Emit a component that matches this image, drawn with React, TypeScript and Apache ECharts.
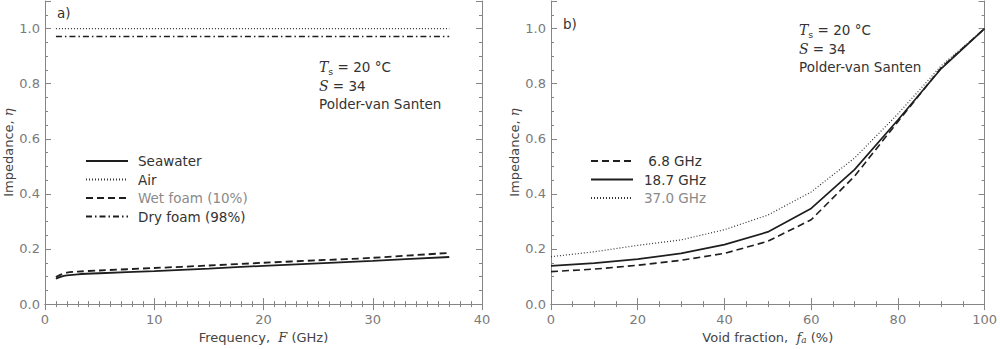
import React, { useEffect, useRef } from "react";
import * as echarts from "echarts";

// ---- Data ----
const freqGHz = [1, 1.5, 2, 3, 5, 10, 15, 20, 25, 30, 37];
const seawaterEta = [0.092, 0.1, 0.104, 0.108, 0.112, 0.12, 0.129, 0.139, 0.148, 0.157, 0.171];
const wetFoamEta = [0.098, 0.108, 0.114, 0.118, 0.122, 0.131, 0.14, 0.15, 0.159, 0.168, 0.186];
const flatFreq = [1, 37];
const airEta = [1.0, 1.0];
const dryFoamEta = [0.971, 0.971];

const voidFraction = [0, 10, 20, 30, 40, 50, 60, 70, 80, 90, 100];
const eta68 = [0.118, 0.127, 0.141, 0.159, 0.184, 0.228, 0.306, 0.464, 0.662, 0.858, 1.0];
const eta187 = [0.139, 0.149, 0.163, 0.184, 0.216, 0.262, 0.347, 0.488, 0.668, 0.855, 1.0];
const eta370 = [0.172, 0.19, 0.213, 0.233, 0.27, 0.323, 0.407, 0.53, 0.69, 0.865, 1.0];

const leftLegend = ["Seawater", "Air", "Wet foam (10%)", "Dry foam (98%)"];
const rightLegend = ["6.8 GHz", "18.7 GHz", "37.0 GHz"];

const zip = (xs: number[], ys: number[]) => xs.map((x, i) => [x, ys[i]]);

const FONT = "DejaVu Sans";
const AXIS_COLOR = "#858585";
const LABEL_COLOR = "#7a7a7a";
const LINE_COLOR = "#1e1e1e";

function xAxes(grid: number, max: number, interval: number, minorSplit: number, name: string) {
  const common = {
    type: "value" as const,
    gridIndex: grid,
    min: 0,
    max,
    interval,
    splitLine: { show: false },
    axisLine: { show: true, lineStyle: { color: AXIS_COLOR, width: 1 } },
    axisTick: { show: true, inside: true, length: 6, lineStyle: { color: AXIS_COLOR } },
    minorTick: { show: true, splitNumber: minorSplit, length: 3, lineStyle: { color: AXIS_COLOR } },
    minorSplitLine: { show: false },
  };
  return [
    {
      ...common,
      position: "bottom",
      axisLabel: { color: LABEL_COLOR, fontSize: 13, fontFamily: FONT, margin: 9 },
      name,
      nameLocation: "middle",
      nameGap: 26,
      nameTextStyle: {
        color: "#444",
        fontSize: 13,
        fontFamily: FONT,
        rich: {
          i: { fontFamily: "DejaVu Serif", fontStyle: "italic", fontSize: 13, color: "#444" },
          s: { fontFamily: "DejaVu Serif", fontStyle: "italic", fontSize: 9, color: "#444", verticalAlign: "bottom" },
        },
      },
    },
    { ...common, position: "top", axisLabel: { show: false } },
  ];
}

function yAxes(grid: number) {
  const base = {
    type: "value" as const,
    gridIndex: grid,
    min: 0,
    max: 1.1,
    splitLine: { show: false },
  };
  const major = {
    ...base,
    interval: 0.2,
    axisTick: { show: true, inside: true, length: 6, lineStyle: { color: AXIS_COLOR } },
  };
  const minor = {
    ...base,
    interval: 0.05,
    axisLine: { show: false },
    axisLabel: { show: false },
    axisTick: { show: true, inside: true, length: 3, lineStyle: { color: AXIS_COLOR } },
  };
  return [
    {
      ...major,
      position: "left",
      axisLine: { show: true, lineStyle: { color: AXIS_COLOR } },
      axisLabel: {
        color: LABEL_COLOR,
        fontSize: 13,
        fontFamily: FONT,
        margin: 5,
        formatter: (v: number) => (v > 1.05 ? "" : v.toFixed(1)),
      },
      name: "Impedance, {i|η}",
      nameLocation: "middle",
      nameGap: 27,
      nameTextStyle: {
        color: "#444",
        fontSize: 13,
        fontFamily: FONT,
        rich: { i: { fontFamily: "DejaVu Serif", fontStyle: "italic", fontSize: 13, color: "#444" } },
      },
    },
    { ...minor, position: "left" },
    {
      ...major,
      position: "right",
      axisLine: { show: true, lineStyle: { color: AXIS_COLOR } },
      axisLabel: { show: false },
    },
    { ...minor, position: "right" },
  ];
}

const annotRich = {
  i: { fontFamily: "DejaVu Serif", fontStyle: "italic", fontSize: 14, fill: "#333", lineHeight: 18.5 },
  s: { fontFamily: FONT, fontSize: 9.5, fill: "#333", lineHeight: 18.5, verticalAlign: "bottom" },
  n: { fontFamily: FONT, fontSize: 13.5, fill: "#333", lineHeight: 18.5 },
};
const annotText = "{i|T}{s|s}{n| = 20 °C}\n{i|S}{n| = 34}\n{n|Polder-van Santen}";

export default function App() {
  const ref = useRef<HTMLDivElement>(null);
  useEffect(() => {
    if (!ref.current) return;
    const chart = echarts.init(ref.current, undefined, { renderer: "svg" });
    const lineBase = { type: "line" as const, showSymbol: false, symbol: "none", animation: false };
    const legendCommon = {
      orient: "vertical" as const,
      top: 154,
      itemWidth: 42,
      itemHeight: 14,
      itemGap: 4.5,
      padding: 0,
      selectedMode: false,
      itemStyle: { opacity: 0, borderWidth: 0, color: "rgba(0,0,0,0)" },
    };
    chart.setOption({
      animation: false,
      backgroundColor: "#fff",
      grid: [
        { left: 45, right: 518, top: 1, bottom: 40 },
        { left: 551, right: 12, top: 1, bottom: 40 },
      ],
      xAxis: [
        ...xAxes(0, 40, 10, 10, "Frequency,  {i|F} (GHz)"),
        ...xAxes(1, 100, 20, 4, "Void fraction,  {i|f}{s|a} (%)"),
      ],
      yAxis: [...yAxes(0), ...yAxes(1)],
      legend: [
        {
          ...legendCommon,
          data: leftLegend.map((n) => (n === "Wet foam (10%)" ? { name: n, textStyle: { color: "#8a8a8a" } } : { name: n })),
          left: 85,
          textStyle: { fontSize: 13.5, fontFamily: FONT, color: "#333", padding: [0, 0, 0, 5] },
        },
        {
          ...legendCommon,
          data: rightLegend.map((n) => (n === "37.0 GHz" ? { name: n, textStyle: { color: "#8a8a8a" } } : { name: n })),
          left: 590,
          formatter: (n: string) => (n === "6.8 GHz" ? " " + n : n),
          textStyle: { fontSize: 13.5, fontFamily: FONT, color: "#333", padding: [0, 0, 0, 6] },
        },
      ],
      graphic: [
        { type: "text", left: 57, top: 6, style: { text: "a)", font: `13.5px "${FONT}"`, fill: "#333" } },
        { type: "text", left: 563, top: 17, style: { text: "b)", font: `13.5px "${FONT}"`, fill: "#333" } },
        { type: "text", left: 319, top: 60, style: { text: annotText, rich: annotRich, fill: "#333" } },
        { type: "text", left: 799, top: 23, style: { text: annotText, rich: annotRich, fill: "#333" } },
      ],
      series: [
        {
          ...lineBase,
          name: "Seawater",
          xAxisIndex: 0,
          yAxisIndex: 0,
          smooth: 0.3,
          data: zip(freqGHz, seawaterEta),
          lineStyle: { color: LINE_COLOR, width: 1.8, type: "solid" },
          itemStyle: { color: LINE_COLOR },
        },
        {
          ...lineBase,
          name: "Air",
          xAxisIndex: 0,
          yAxisIndex: 0,
          data: zip(flatFreq, airEta),
          lineStyle: { color: "#333", width: 1.2, type: [1, 2] },
          itemStyle: { color: "#333" },
        },
        {
          ...lineBase,
          name: "Wet foam (10%)",
          xAxisIndex: 0,
          yAxisIndex: 0,
          smooth: 0.3,
          data: zip(freqGHz, wetFoamEta),
          lineStyle: { color: LINE_COLOR, width: 1.8, type: [7, 4] },
          itemStyle: { color: LINE_COLOR },
        },
        {
          ...lineBase,
          name: "Dry foam (98%)",
          xAxisIndex: 0,
          yAxisIndex: 0,
          data: zip(flatFreq, dryFoamEta),
          lineStyle: { color: LINE_COLOR, width: 1.5, type: [6, 3, 1.5, 3] },
          itemStyle: { color: LINE_COLOR },
        },
        {
          ...lineBase,
          name: "6.8 GHz",
          xAxisIndex: 2,
          yAxisIndex: 4,
          data: zip(voidFraction, eta68),
          lineStyle: { color: LINE_COLOR, width: 1.6, type: [7, 4] },
          itemStyle: { color: LINE_COLOR },
        },
        {
          ...lineBase,
          name: "18.7 GHz",
          xAxisIndex: 2,
          yAxisIndex: 4,
          data: zip(voidFraction, eta187),
          lineStyle: { color: LINE_COLOR, width: 1.7, type: "solid" },
          itemStyle: { color: LINE_COLOR },
        },
        {
          ...lineBase,
          name: "37.0 GHz",
          xAxisIndex: 2,
          yAxisIndex: 4,
          data: zip(voidFraction, eta370),
          lineStyle: { color: "#333", width: 1.2, type: [1, 2] },
          itemStyle: { color: "#333" },
        },
      ],
    });
    return () => chart.dispose();
  }, []);
  return <div ref={ref} style={{ position: "fixed", left: 0, top: 0, width: 1000, height: 349 }} />;
}
